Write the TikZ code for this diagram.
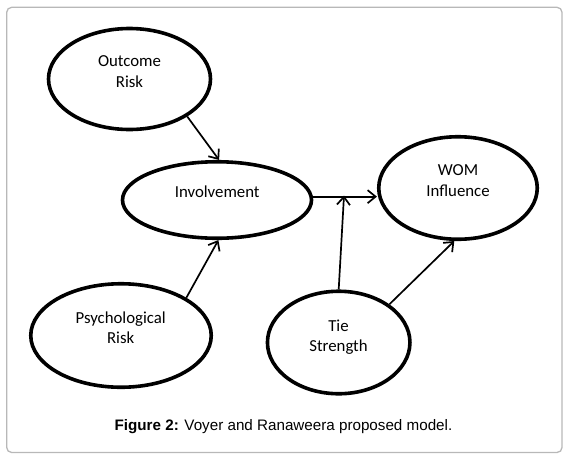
\documentclass[tikz,border=0pt]{standalone}
\usepackage{fontspec}
\setmainfont{Carlito}
\newfontfamily\capfont{Liberation Sans}
\usetikzlibrary{shapes.geometric,arrows.meta}
\begin{document}
\begin{tikzpicture}[x=1pt,y=-1pt,
  ell/.style={ellipse,draw=black,line width=3.6pt,inner sep=0pt},
  lbl/.style={align=center,inner sep=0pt,font=\fontsize{16.8}{20.5}\selectfont},
  conn/.style={line width=1.7pt,-{Straight Barb[length=8pt,width=13pt,line width=1.7pt]}},
  plain/.style={line width=1.7pt}]
\useasboundingbox (0,0) rectangle (570,461);
\draw[black!28,line width=1.3pt,rounded corners=5pt] (6.7,7.3) rectangle (562,452.5);

\node[ell,minimum width=162pt,minimum height=101pt] (orisk) at (129.5,79) {};
\node[ell,minimum width=189pt,minimum height=76.5pt] (inv) at (217,200) {};
\node[ell,minimum width=158.5pt,minimum height=102.5pt] (wom) at (458,188) {};
\node[ell,minimum width=180.5pt,minimum height=103.5pt] (psych) at (121,335.5) {};
\node[ell,minimum width=142.5pt,minimum height=102.5pt] (tie) at (338.7,342.5) {};

\node[lbl] (orisk-t) at (129.5,71.7) {Outcome\\Risk};
\node[lbl] (inv-t) at (217.2,191.3) {Involvement};
\node[lbl] (wom-t) at (458,180.5) {WOM\\Influence};
\node[lbl] (psych-t) at (120.7,327.5) {Psychological\\Risk};
\node[lbl] (tie-t) at (338.5,337) {Tie\\Strength};

\coordinate (j) at (344,195.5);

\draw[conn] (orisk.-33.2) -- (inv.87.3);
\draw[conn] (psych.30.8) -- (inv.272.7);
\draw[conn] (inv.2.7) -- (inv.2.7 -| wom.west);
\draw[conn] (tie.north) -- (j);
\draw[conn] (tie.37.3) -- (wom.266);

\node[font=\capfont\fontsize{15.2}{18}\selectfont,anchor=base,inner sep=0pt] (cap) at (283.5,430) {\textbf{Figure 2:} Voyer and Ranaweera proposed model.};
\end{tikzpicture}
\end{document}
